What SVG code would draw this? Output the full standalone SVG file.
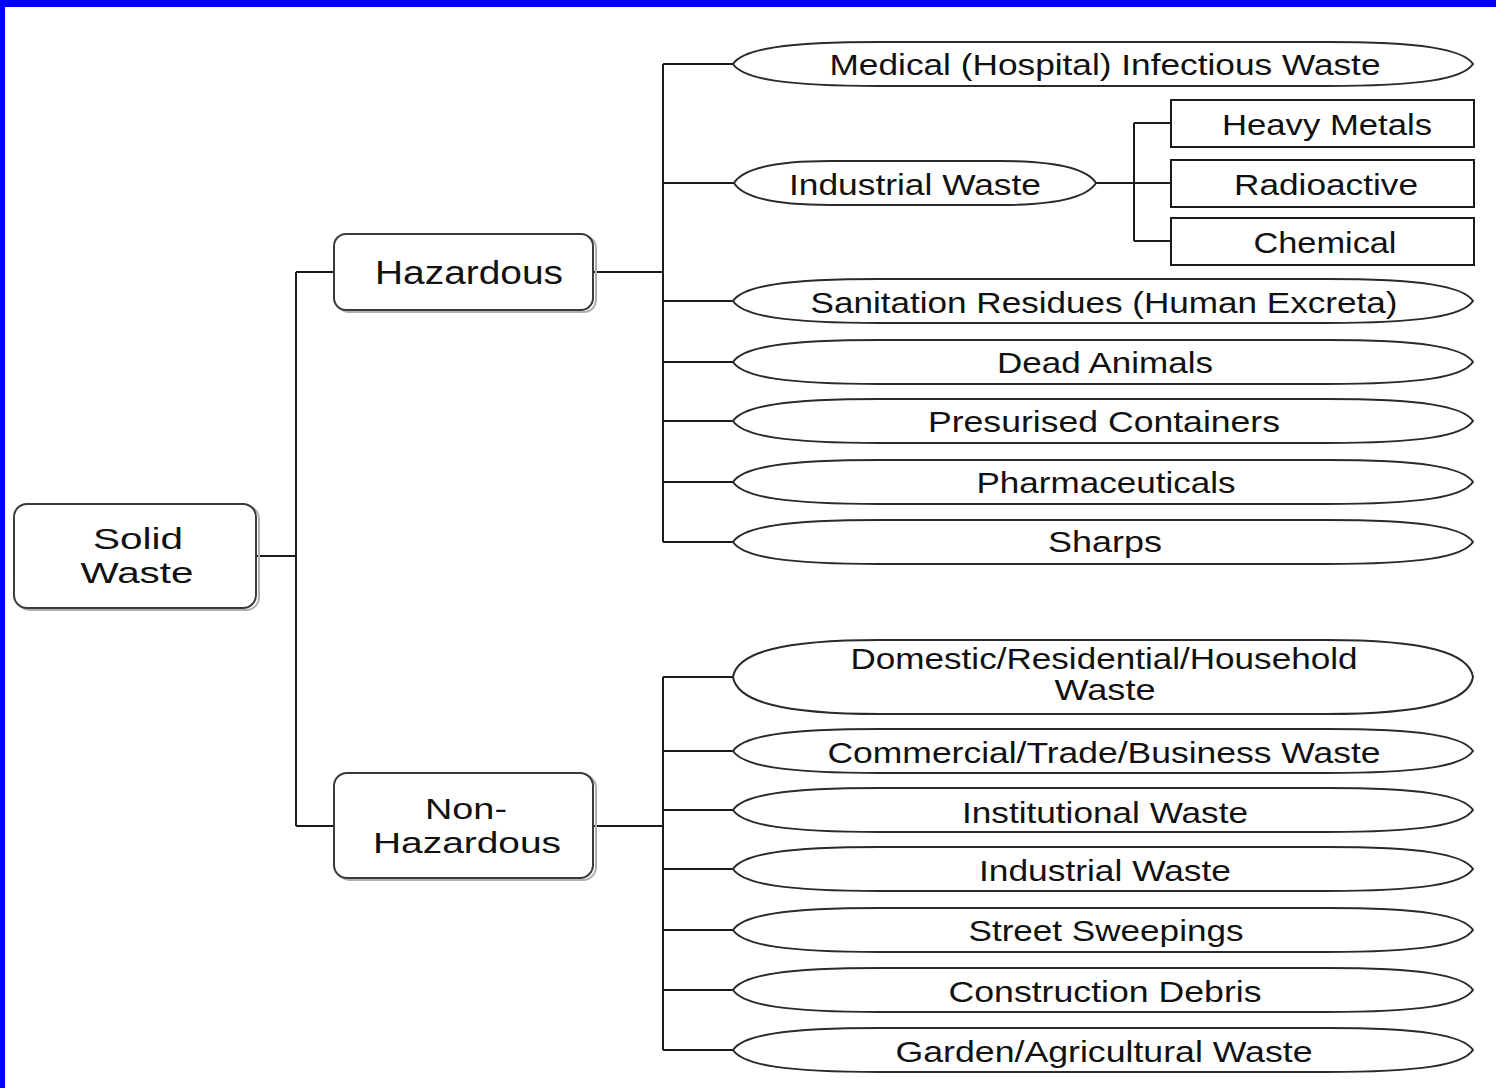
<svg xmlns="http://www.w3.org/2000/svg" xmlns:xlink="http://www.w3.org/1999/xlink" width="1496" height="1088" viewBox="0 0 1496 1088">
<style>
.bg{fill:#ffffff}
.frame{fill:#0000ff}
.rbox{fill:#ffffff;stroke:#3a3a3a;stroke-width:2}
.shadow{fill:none;stroke:#b0b0b0;stroke-width:2}
.ell{fill:#ffffff;stroke:#2a2a2a;stroke-width:2}
.sq{fill:#ffffff;stroke:#1a1a1a;stroke-width:2}
.conn{fill:none;stroke:#1a1a1a;stroke-width:2}
text{font-family:"Liberation Sans",Arial,sans-serif;fill:#111111;text-anchor:middle}
.t30{font-size:30px}
.t33{font-size:33px}
</style>
<defs>
<path id="ell" d="M733,0 C743,-15 785,-22 880,-22 L1326,-22 C1421,-22 1463,-15 1473,0 C1463,15 1421,22 1326,22 L880,22 C785,22 743,15 733,0 Z"/>
</defs>
<rect class="bg" x="0" y="0" width="1496" height="1088"/>
<rect class="frame" x="0" y="0" width="1496" height="7"/>
<rect class="frame" x="0" y="0" width="5" height="1088"/>

<g id="connectors">
<path class="conn" d="M257,556 H296 M296,272 V826 M296,272 H334 M296,826 H334"/>
<path class="conn" d="M594,272 H663 M663,64 V542 M663,64 H735 M663,183 H735 M663,301 H735 M663,362 H735 M663,421 H735 M663,482 H735 M663,542 H735"/>
<path class="conn" d="M1096,183 H1134 M1134,123 V241 M1134,123 H1171 M1134,183 H1171 M1134,241 H1171"/>
<path class="conn" d="M594,826 H663 M663,677 V1050 M663,677 H735 M663,751 H735 M663,810 H735 M663,869 H735 M663,930 H735 M663,990 H735 M663,1050 H735"/>
</g>

<g id="solid-waste">
<rect class="shadow" x="17" y="506" width="242" height="104" rx="13"/>
<rect class="rbox" x="14" y="504" width="242" height="104" rx="13"/>
<text class="t30" x="138" y="549" textLength="90" lengthAdjust="spacingAndGlyphs">Solid</text>
<text class="t30" x="137" y="583" textLength="113" lengthAdjust="spacingAndGlyphs">Waste</text>
</g>

<g id="hazardous">
<rect class="shadow" x="337" y="236" width="259" height="76" rx="12"/>
<rect class="rbox" x="334" y="234" width="259" height="76" rx="12"/>
<text class="t33" x="469" y="284" textLength="188" lengthAdjust="spacingAndGlyphs">Hazardous</text>
</g>

<g id="non-hazardous">
<rect class="shadow" x="337" y="775" width="259" height="105" rx="13"/>
<rect class="rbox" x="334" y="773" width="259" height="105" rx="13"/>
<text class="t30" x="466" y="819" textLength="82" lengthAdjust="spacingAndGlyphs">Non-</text>
<text class="t30" x="467" y="853" textLength="188" lengthAdjust="spacingAndGlyphs">Hazardous</text>
</g>

<g id="medical">
<use xlink:href="#ell" class="ell" y="64"/>
<text class="t30" x="1105" y="75" textLength="551" lengthAdjust="spacingAndGlyphs">Medical (Hospital) Infectious Waste</text>
</g>

<g id="industrial-haz">
<path class="ell" d="M734,183 C742,170 768,161 830,161 L1000,161 C1062,161 1088,170 1096,183 C1088,196 1062,205 1000,205 L830,205 C768,205 742,196 734,183 Z"/>
<text class="t30" x="915" y="195" textLength="252" lengthAdjust="spacingAndGlyphs">Industrial Waste</text>
</g>

<g id="heavy-metals">
<rect class="sq" x="1171" y="100" width="303" height="47"/>
<text class="t30" x="1327" y="135" textLength="210" lengthAdjust="spacingAndGlyphs">Heavy Metals</text>
</g>

<g id="radioactive">
<rect class="sq" x="1171" y="160" width="303" height="47"/>
<text class="t30" x="1326" y="195" textLength="184" lengthAdjust="spacingAndGlyphs">Radioactive</text>
</g>

<g id="chemical">
<rect class="sq" x="1171" y="218" width="303" height="47"/>
<text class="t30" x="1325" y="253" textLength="143" lengthAdjust="spacingAndGlyphs">Chemical</text>
</g>

<g id="sanitation">
<use xlink:href="#ell" class="ell" y="301"/>
<text class="t30" x="1104" y="313" textLength="587" lengthAdjust="spacingAndGlyphs">Sanitation Residues (Human Excreta)</text>
</g>

<g id="dead-animals">
<use xlink:href="#ell" class="ell" y="362"/>
<text class="t30" x="1105" y="373" textLength="216" lengthAdjust="spacingAndGlyphs">Dead Animals</text>
</g>

<g id="presurised">
<use xlink:href="#ell" class="ell" y="421"/>
<text class="t30" x="1104" y="432" textLength="352" lengthAdjust="spacingAndGlyphs">Presurised Containers</text>
</g>

<g id="pharmaceuticals">
<use xlink:href="#ell" class="ell" y="482"/>
<text class="t30" x="1106" y="493" textLength="259" lengthAdjust="spacingAndGlyphs">Pharmaceuticals</text>
</g>

<g id="sharps">
<use xlink:href="#ell" class="ell" y="542"/>
<text class="t30" x="1105" y="552" textLength="114" lengthAdjust="spacingAndGlyphs">Sharps</text>
</g>

<g id="domestic">
<path class="ell" d="M733,677 C737,653 780,640 880,640 L1326,640 C1426,640 1469,653 1473,677 C1469,701 1426,714 1326,714 L880,714 C780,714 737,701 733,677 Z"/>
<text class="t30" x="1104" y="669" textLength="507" lengthAdjust="spacingAndGlyphs">Domestic/Residential/Household</text>
<text class="t30" x="1105" y="700" textLength="101" lengthAdjust="spacingAndGlyphs">Waste</text>
</g>

<g id="commercial">
<use xlink:href="#ell" class="ell" y="751"/>
<text class="t30" x="1104" y="763" textLength="553" lengthAdjust="spacingAndGlyphs">Commercial/Trade/Business Waste</text>
</g>

<g id="institutional">
<use xlink:href="#ell" class="ell" y="810"/>
<text class="t30" x="1105" y="823" textLength="286" lengthAdjust="spacingAndGlyphs">Institutional Waste</text>
</g>

<g id="industrial-nonhaz">
<use xlink:href="#ell" class="ell" y="869"/>
<text class="t30" x="1105" y="881" textLength="252" lengthAdjust="spacingAndGlyphs">Industrial Waste</text>
</g>

<g id="street">
<use xlink:href="#ell" class="ell" y="930"/>
<text class="t30" x="1106" y="941" textLength="275" lengthAdjust="spacingAndGlyphs">Street Sweepings</text>
</g>

<g id="construction">
<use xlink:href="#ell" class="ell" y="990"/>
<text class="t30" x="1105" y="1002" textLength="313" lengthAdjust="spacingAndGlyphs">Construction Debris</text>
</g>

<g id="garden">
<use xlink:href="#ell" class="ell" y="1050"/>
<text class="t30" x="1104" y="1062" textLength="417" lengthAdjust="spacingAndGlyphs">Garden/Agricultural Waste</text>
</g>
</svg>
